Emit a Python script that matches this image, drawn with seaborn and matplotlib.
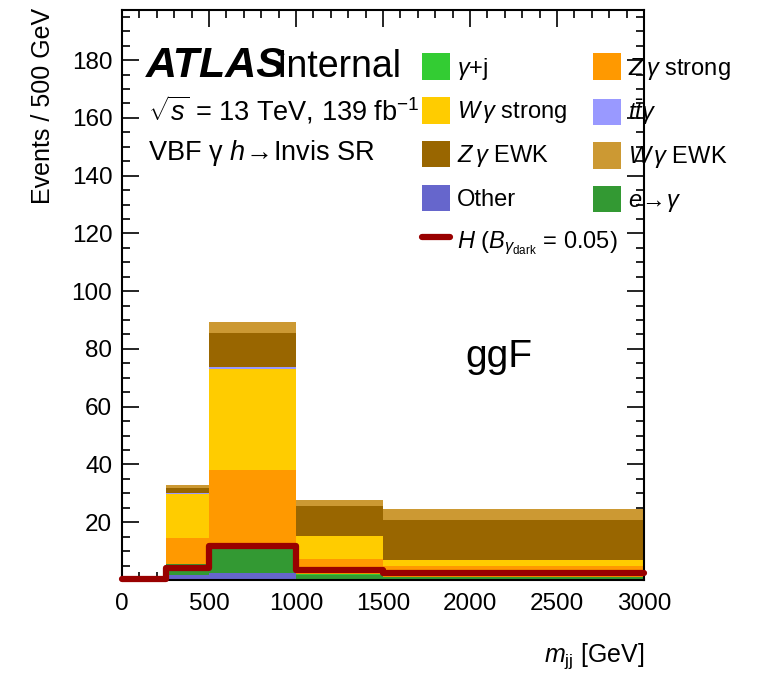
import numpy as np
import pandas as pd
import matplotlib
matplotlib.use("Agg")
import matplotlib.pyplot as plt
from matplotlib.patches import Patch
from matplotlib.lines import Line2D
from matplotlib.ticker import MultipleLocator
import seaborn as sns

# -----------------------------------
# data
# -----------------------------------
bin_edges = [250, 500, 1000, 1500, 3000]
sig_edges = [0, 250, 500, 1000, 1500, 3000]

# backgrounds, bottom of the stack first
other = [1.6, 2.4, 0.3, 0.1]
e_fake = [3.8, 8.6, 1.4, 0.8]
gamma_j = [0.1, 0.3, 0.3, 0.2]
zg_strong = [9.2, 26.7, 5.2, 3.7]
wg_strong = [15.2, 35.2, 8.0, 2.0]
ttg = [0.2, 0.6, 0.2, 0.1]
zg_ewk = [1.6, 11.8, 10.1, 14.0]
wg_ewk = [1.1, 3.6, 2.3, 3.8]

signal = [0.3, 4.2, 11.9, 3.5, 2.3]

proc_keys = ["other", "efake", "gj", "zgs", "wgs", "ttg", "zgewk", "wgewk"]
proc_vals = [other, e_fake, gamma_j, zg_strong, wg_strong, ttg, zg_ewk, wg_ewk]
proc_labels = {
    "gj": r"$\gamma$+j",
    "zgs": r"$Z\,\gamma$ strong",
    "wgs": r"$W\,\gamma$ strong",
    "ttg": r"$t\bar{t}\gamma$",
    "zgewk": r"$Z\,\gamma$ EWK",
    "wgewk": r"$W\,\gamma$ EWK",
    "other": "Other",
    "efake": r"$e\!\rightarrow\!\gamma$",
}
colors = {
    "gj": "#33cc33",
    "zgs": "#ff9900",
    "wgs": "#ffcc00",
    "ttg": "#9999ff",
    "zgewk": "#996600",
    "wgewk": "#cc9933",
    "other": "#6666cc",
    "efake": "#339933",
}
sig_color = "#990000"

# long table for seaborn
centers = [(a + b) / 2 for a, b in zip(bin_edges[:-1], bin_edges[1:])]
rows = []
for key, vals in zip(proc_keys, proc_vals):
    for c, v in zip(centers, vals):
        rows.append({"mjj": c, "events": v, "process": key})
df = pd.DataFrame(rows)

sig_centers = [(a + b) / 2 for a, b in zip(sig_edges[:-1], sig_edges[1:])]
df_sig = pd.DataFrame({"mjj": sig_centers, "events": signal})

# -----------------------------------
# style
# -----------------------------------
sns.set_theme(style="ticks")
plt.rcParams["font.family"] = ["Liberation Sans", "DejaVu Sans"]
plt.rcParams["mathtext.fontset"] = "custom"
plt.rcParams["mathtext.rm"] = "Liberation Sans"
plt.rcParams["mathtext.it"] = "Liberation Sans:italic"
plt.rcParams["mathtext.bf"] = "Liberation Sans:bold"
plt.rcParams["text.color"] = "black"
plt.rcParams["axes.labelcolor"] = "black"

fig = plt.figure(figsize=(7.57, 6.75), dpi=100)
ax = fig.add_axes([0.1612, 0.1407, 0.6896, 0.8452])

# seaborn puts the first hue level on top of the stack
sns.histplot(data=df, x="mjj", weights="events", hue="process",
             hue_order=proc_keys[::-1], multiple="stack", bins=bin_edges,
             palette=colors, alpha=1, linewidth=0, legend=False, ax=ax)

sns.histplot(data=df_sig, x="mjj", weights="events", bins=sig_edges,
             element="step", fill=False, color=sig_color, linewidth=4.5,
             clip_on=False, zorder=5, ax=ax)

ax.set_xlim(0, 3000)
ax.set_ylim(0, 197.5)
ax.set_xticks(range(0, 3001, 500))
ax.set_yticks(range(20, 181, 20))
ax.xaxis.set_minor_locator(MultipleLocator(100))
ax.yaxis.set_minor_locator(MultipleLocator(5))
ax.tick_params(which="both", direction="in", top=True, right=True,
               width=1.2, colors="black", labelcolor="black", labelsize=17.5)
ax.tick_params(which="major", length=12)
ax.tick_params(which="minor", length=6)
ax.tick_params(axis="y", pad=7)
ax.tick_params(axis="x", pad=9)
for s in ax.spines.values():
    s.set_linewidth(1.5)
    s.set_color("black")

ax.set_xlabel(r"$m_{\rm jj}$ [GeV]", fontsize=18, ha="right")
ax.xaxis.set_label_coords(1.0, -0.108)
ax.xaxis.label.set_va("top")
ax.set_ylabel("Events / 500 GeV", fontsize=18, loc="top")
ax.yaxis.set_label_coords(-0.128, 1.003)

# -----------------------------------
# labels
# -----------------------------------
ax.text(0.046, 0.882, "ATLAS", transform=ax.transAxes, fontsize=31,
        fontweight="bold", fontstyle="italic", va="baseline")
ax.text(0.295, 0.882, "Internal", transform=ax.transAxes, fontsize=27,
        va="baseline")
ax.text(0.05, 0.806, r"$\sqrt{s}$ = 13 TeV, 139 fb$^{-1}$",
        transform=ax.transAxes, fontsize=19.5, va="baseline")
ax.text(0.05, 0.737, r"VBF γ $h\!\rightarrow\!$Invis SR",
        transform=ax.transAxes, fontsize=19.5, va="baseline")
ax.text(0.657, 0.374, "ggF", transform=ax.transAxes, fontsize=28,
        va="baseline")

# legend, two hand placed columns (ROOT fills by rows)
col1 = ["gj", "wgs", "zgewk", "other"]
col2 = ["zgs", "ttg", "wgewk", "efake"]
leg_kw = dict(frameon=False, fontsize=17, handlelength=1.17,
              handleheight=1.35, handletextpad=0.3, labelspacing=0.66,
              borderpad=0, borderaxespad=0, loc="upper left")
h1 = [Patch(facecolor=colors[k], edgecolor="none") for k in col1]
h1.append(Line2D([], [], color=sig_color, linewidth=4.5))
l1 = [proc_labels[k] for k in col1]
l1.append(r"$H$ $(B_{\gamma_{\rm dark}}$ = 0.05)")
leg1 = ax.legend(h1, l1, bbox_to_anchor=(0.575, 0.923), **leg_kw)
ax.add_artist(leg1)
h2 = [Patch(facecolor=colors[k], edgecolor="none") for k in col2]
l2 = [proc_labels[k] for k in col2]
ax.legend(h2, l2, bbox_to_anchor=(0.902, 0.923), **leg_kw)

fig.savefig("out.png", dpi=100)
